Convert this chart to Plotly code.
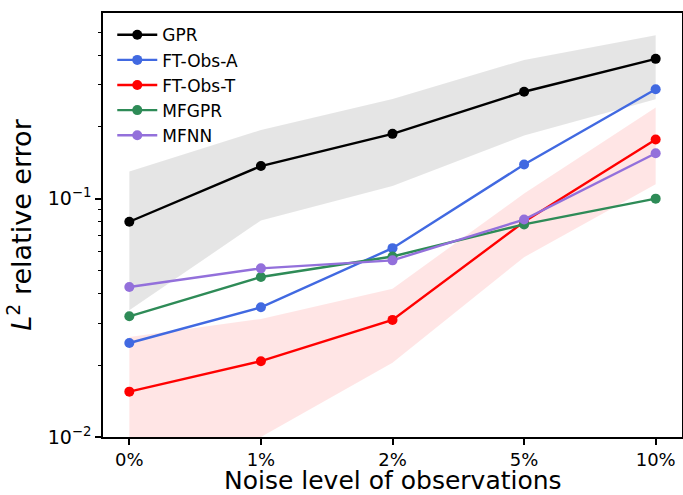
import plotly.graph_objects as go

categories = ["0%", "1%", "2%", "5%", "10%"]
x_pos = [0, 1, 2, 3, 4]

gpr = [0.080, 0.137, 0.187, 0.281, 0.386]
gpr_upper = [0.130, 0.194, 0.262, 0.382, 0.485]
gpr_lower = [0.034, 0.081, 0.113, 0.184, 0.261]

ft_obs_a = [0.0248, 0.035, 0.062, 0.139, 0.288]

ft_obs_t = [0.0155, 0.0208, 0.031, 0.080, 0.177]
ft_obs_t_upper = [0.0263, 0.0313, 0.0419, 0.105, 0.241]
ft_obs_t_lower = [0.0085, 0.0100, 0.0205, 0.0568, 0.115]

mfgpr = [0.0321, 0.0469, 0.0572, 0.078, 0.100]
mfnn = [0.0426, 0.051, 0.0551, 0.0817, 0.155]

series = [
    ("GPR", gpr, "black"),
    ("FT-Obs-A", ft_obs_a, "royalblue"),
    ("FT-Obs-T", ft_obs_t, "red"),
    ("MFGPR", mfgpr, "seagreen"),
    ("MFNN", mfnn, "mediumpurple"),
]

fig = go.Figure()

# uncertainty bands
fig.add_trace(go.Scatter(
    x=x_pos + x_pos[::-1], y=gpr_upper + gpr_lower[::-1],
    fill="toself", fillcolor="rgba(0,0,0,0.1)", line=dict(width=0),
    mode="lines", showlegend=False, hoverinfo="skip"))
fig.add_trace(go.Scatter(
    x=x_pos + x_pos[::-1], y=ft_obs_t_upper + ft_obs_t_lower[::-1],
    fill="toself", fillcolor="rgba(255,0,0,0.1)", line=dict(width=0),
    mode="lines", showlegend=False, hoverinfo="skip"))

for i, (name, vals, color) in enumerate(series):
    fig.add_trace(go.Scatter(
        x=x_pos, y=vals, name=name, mode="lines+markers",
        line=dict(color=color, width=2.4),
        marker=dict(color=color, size=10),
        legendgroup=f"g{i}"))

font = "DejaVu Sans"
minor_vals = [k * 1e-2 for k in range(2, 10)] + [k * 1e-1 for k in range(2, 6)]

fig.update_layout(
    width=683, height=495,
    margin=dict(l=103, r=1, t=13, b=58),
    plot_bgcolor="white", paper_bgcolor="white",
    font=dict(family=font, color="black"),
    showlegend=True,
    legend=dict(x=0.016, y=0.99, xanchor="left", yanchor="top",
                bgcolor="rgba(0,0,0,0)", borderwidth=0,
                font=dict(size=17, family=font),
                itemwidth=40,
                tracegroupgap=0, traceorder="grouped"),
    xaxis=dict(
        range=[-0.2, 4.2], tickmode="array", tickvals=x_pos, ticktext=categories,
        automargin=False,
        showgrid=False, zeroline=False, showline=True, linecolor="black",
        linewidth=1.5, mirror=True, ticks="outside", ticklen=6, tickwidth=1.5,
        tickcolor="black", tickfont=dict(size=18, family=font),
    ),
    yaxis=dict(
        type="log", range=[-2, -0.221], tickmode="array",
        tickvals=[0.01, 0.1], ticktext=["10<sup>−2</sup>", "10<sup>−1</sup>"],
        automargin=False,
        showgrid=False, zeroline=False, showline=True, linecolor="black",
        linewidth=1.5, mirror=True, ticks="outside", ticklen=6, tickwidth=1.5,
        tickcolor="black", tickfont=dict(size=19, family=font),
        minor=dict(tickmode="array", tickvals=minor_vals, ticks="outside",
                   ticklen=3.5, tickwidth=1.2, tickcolor="black", showgrid=False),
        title=dict(text="<i>L</i><sup>2</sup> relative error", font=dict(size=27, family=font),
                   standoff=8),
    ),
    annotations=[dict(
        text="Noise level of observations", xref="paper", yref="paper",
        x=0.5, y=-0.1025, xanchor="center", yanchor="middle", showarrow=False,
        height=26, borderpad=0,
        font=dict(size=25, family=font, color="black"))],
)

fig.write_html("out.html")
